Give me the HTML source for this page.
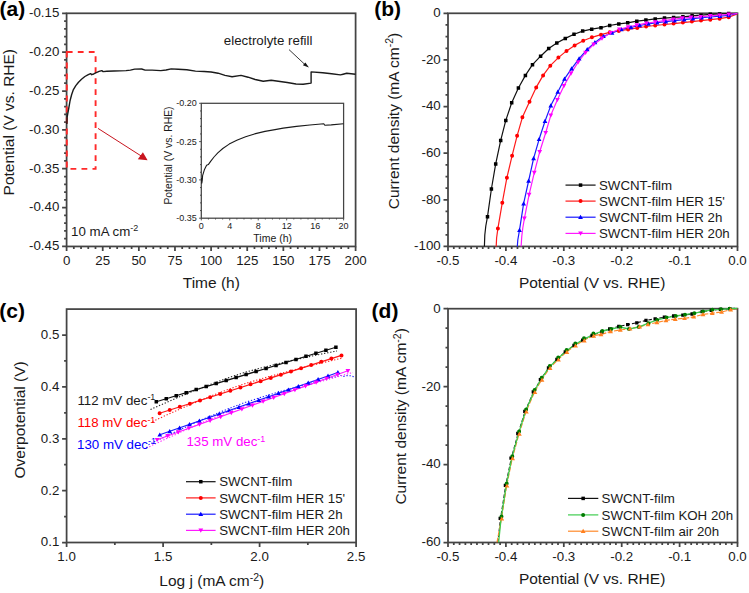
<!DOCTYPE html>
<html><head><meta charset="utf-8"><style>
html,body{margin:0;padding:0;background:#fff;overflow:hidden;}
svg{display:block;}
text{font-family:"Liberation Sans", sans-serif;}
</style></head><body>
<svg width="749" height="593" viewBox="0 0 749 593">
<rect width="749" height="593" fill="#fff"/>
<rect x="66.6" y="13.3" width="289" height="233.15" fill="none" stroke="#444" stroke-width="1.75"/>
<path d="M66.6 13.3h-4.5M66.6 52.16h-4.5M66.6 91.02h-4.5M66.6 129.88h-4.5M66.6 168.73h-4.5M66.6 207.59h-4.5M66.6 246.45h-4.5M66.6 21.07h-2.5M66.6 28.84h-2.5M66.6 36.61h-2.5M66.6 44.39h-2.5M66.6 59.93h-2.5M66.6 67.7h-2.5M66.6 75.47h-2.5M66.6 83.24h-2.5M66.6 98.79h-2.5M66.6 106.56h-2.5M66.6 114.33h-2.5M66.6 122.1h-2.5M66.6 137.65h-2.5M66.6 145.42h-2.5M66.6 153.19h-2.5M66.6 160.96h-2.5M66.6 176.5h-2.5M66.6 184.28h-2.5M66.6 192.05h-2.5M66.6 199.82h-2.5M66.6 215.36h-2.5M66.6 223.14h-2.5M66.6 230.91h-2.5M66.6 238.68h-2.5" stroke="#444" stroke-width="1.75" fill="none"/>
<path d="M66.6 246.45v4.5M102.72 246.45v4.5M138.85 246.45v4.5M174.97 246.45v4.5M211.1 246.45v4.5M247.22 246.45v4.5M283.35 246.45v4.5M319.48 246.45v4.5M355.6 246.45v4.5M73.82 246.45v2.5M81.05 246.45v2.5M88.27 246.45v2.5M95.5 246.45v2.5M109.95 246.45v2.5M117.17 246.45v2.5M124.4 246.45v2.5M131.62 246.45v2.5M146.07 246.45v2.5M153.3 246.45v2.5M160.52 246.45v2.5M167.75 246.45v2.5M182.2 246.45v2.5M189.43 246.45v2.5M196.65 246.45v2.5M203.88 246.45v2.5M218.32 246.45v2.5M225.55 246.45v2.5M232.78 246.45v2.5M240 246.45v2.5M254.45 246.45v2.5M261.67 246.45v2.5M268.9 246.45v2.5M276.12 246.45v2.5M290.57 246.45v2.5M297.8 246.45v2.5M305.02 246.45v2.5M312.25 246.45v2.5M326.7 246.45v2.5M333.92 246.45v2.5M341.15 246.45v2.5M348.38 246.45v2.5" stroke="#444" stroke-width="1.75" fill="none"/>
<text x="59.3" y="17.2" font-size="13.3" text-anchor="end" fill="#1a1a1a" font-weight="normal" >-0.15</text>
<text x="59.3" y="56.06" font-size="13.3" text-anchor="end" fill="#1a1a1a" font-weight="normal" >-0.20</text>
<text x="59.3" y="94.92" font-size="13.3" text-anchor="end" fill="#1a1a1a" font-weight="normal" >-0.25</text>
<text x="59.3" y="133.78" font-size="13.3" text-anchor="end" fill="#1a1a1a" font-weight="normal" >-0.30</text>
<text x="59.3" y="172.63" font-size="13.3" text-anchor="end" fill="#1a1a1a" font-weight="normal" >-0.35</text>
<text x="59.3" y="211.49" font-size="13.3" text-anchor="end" fill="#1a1a1a" font-weight="normal" >-0.40</text>
<text x="59.3" y="250.35" font-size="13.3" text-anchor="end" fill="#1a1a1a" font-weight="normal" >-0.45</text>
<text x="66.6" y="264.65" font-size="13.3" text-anchor="middle" fill="#1a1a1a" font-weight="normal" >0</text>
<text x="102.72" y="264.65" font-size="13.3" text-anchor="middle" fill="#1a1a1a" font-weight="normal" >25</text>
<text x="138.85" y="264.65" font-size="13.3" text-anchor="middle" fill="#1a1a1a" font-weight="normal" >50</text>
<text x="174.97" y="264.65" font-size="13.3" text-anchor="middle" fill="#1a1a1a" font-weight="normal" >75</text>
<text x="211.1" y="264.65" font-size="13.3" text-anchor="middle" fill="#1a1a1a" font-weight="normal" >100</text>
<text x="247.22" y="264.65" font-size="13.3" text-anchor="middle" fill="#1a1a1a" font-weight="normal" >125</text>
<text x="283.35" y="264.65" font-size="13.3" text-anchor="middle" fill="#1a1a1a" font-weight="normal" >150</text>
<text x="319.48" y="264.65" font-size="13.3" text-anchor="middle" fill="#1a1a1a" font-weight="normal" >175</text>
<text x="355.6" y="264.65" font-size="13.3" text-anchor="middle" fill="#1a1a1a" font-weight="normal" >200</text>
<text x="211.3" y="287.8" font-size="15.5" text-anchor="middle" fill="#1a1a1a" font-weight="normal" >Time (h)</text>
<text transform="translate(14 195.4) rotate(-90)" x="0" y="0" font-size="15.5" text-anchor="start" fill="#1a1a1a">Potential (V vs. RHE)</text>
<text x="-0.4" y="16" font-size="21" text-anchor="start" fill="#000" font-weight="bold" >(a)</text>
<path d="M66.8 52 H95.6 V168.9 H66.8 Z" fill="none" stroke="#ff2a2a" stroke-width="1.9" stroke-dasharray="5.8 5.2"/>
<path d="M98 128.4 L141.5 156.2" stroke="#c8141e" stroke-width="1"/>
<path d="M147.6 160.2 L142.9 152.2 L137.8 159.2 Z" fill="#c8141e"/>
<path d="M66.8 124 L67.1 117.5 L67.8 113.5 L68.8 108 L70.1 100.5 L71.6 94.7 L73.4 89.6 L75.8 85.6 L78.5 82.2 L81.5 79.2 L84.9 76.5 L88.3 74.6 L90.6 73.6 L91.7 74.7 L93.7 74 L95.7 72.8 L99.1 71.4 L101.8 70.6 L103.1 71.6 L106.9 71.3 L113.9 71 L126 70.6 L130.4 70.1 L134.7 69.1 L141.7 69 L145.1 70.1 L152.1 70.1 L160.8 70.6 L166 70 L171.2 68.9 L178.1 69.2 L186.8 69.8 L195.5 71.1 L204.2 71.5 L211.1 72 L218.1 73.2 L225 75.4 L232.1 76.7 L241 75.4 L248.1 77.2 L255.2 79.5 L263.2 81.3 L271.2 80.2 L278.3 81.3 L287.2 82.5 L296 84 L303.2 84.3 L311.1 83.1 L311.1 71.9 L322.7 72.8 L331.6 73.8 L340.4 74.9 L343.1 74.2 L346.7 73.3 L355.5 74.2" fill="none" stroke="#1a1a1a" stroke-width="1.4" stroke-linejoin="round" opacity="1"/>
<text x="223.8" y="45" font-size="13.3" text-anchor="start" fill="#1a1a1a" font-weight="normal" >electrolyte refill</text>
<path d="M289 49.6 L305 64.6" stroke="#222" stroke-width="0.9"/>
<path d="M308.9 67.6 L305.4 62.4 L302.9 65.2 Z" fill="#111"/>
<text x="71.1" y="236.3" font-size="13.3" text-anchor="start" fill="#1a1a1a" font-weight="normal" >10 mA cm<tspan dy="-5.6" font-size="9">-2</tspan></text>
<rect x="201.3" y="103.3" width="142.3" height="114.9" fill="none" stroke="#444" stroke-width="1.25"/>
<path d="M201.3 103.3h-2.2M201.3 141.6h-2.2M201.3 179.9h-2.2M201.3 218.2h-2.2M201.3 110.96h-1.3M201.3 118.62h-1.3M201.3 126.28h-1.3M201.3 133.94h-1.3M201.3 149.26h-1.3M201.3 156.92h-1.3M201.3 164.58h-1.3M201.3 172.24h-1.3M201.3 187.56h-1.3M201.3 195.22h-1.3M201.3 202.88h-1.3M201.3 210.54h-1.3" stroke="#444" stroke-width="0.9" fill="none"/>
<path d="M201.3 218.2v2.2M229.76 218.2v2.2M258.22 218.2v2.2M286.68 218.2v2.2M315.14 218.2v2.2M343.6 218.2v2.2M208.42 218.2v1.3M215.53 218.2v1.3M222.65 218.2v1.3M236.88 218.2v1.3M243.99 218.2v1.3M251.11 218.2v1.3M265.34 218.2v1.3M272.45 218.2v1.3M279.57 218.2v1.3M293.8 218.2v1.3M300.91 218.2v1.3M308.02 218.2v1.3M322.25 218.2v1.3M329.37 218.2v1.3M336.49 218.2v1.3" stroke="#444" stroke-width="0.9" fill="none"/>
<text x="196.7" y="106.4" font-size="9" text-anchor="end" fill="#1a1a1a" font-weight="normal" >-0.20</text>
<text x="196.7" y="144.7" font-size="9" text-anchor="end" fill="#1a1a1a" font-weight="normal" >-0.25</text>
<text x="196.7" y="183" font-size="9" text-anchor="end" fill="#1a1a1a" font-weight="normal" >-0.30</text>
<text x="196.7" y="221.3" font-size="9" text-anchor="end" fill="#1a1a1a" font-weight="normal" >-0.35</text>
<text x="201.3" y="229.4" font-size="9" text-anchor="middle" fill="#1a1a1a" font-weight="normal" >0</text>
<text x="229.76" y="229.4" font-size="9" text-anchor="middle" fill="#1a1a1a" font-weight="normal" >4</text>
<text x="258.22" y="229.4" font-size="9" text-anchor="middle" fill="#1a1a1a" font-weight="normal" >8</text>
<text x="286.68" y="229.4" font-size="9" text-anchor="middle" fill="#1a1a1a" font-weight="normal" >12</text>
<text x="315.14" y="229.4" font-size="9" text-anchor="middle" fill="#1a1a1a" font-weight="normal" >16</text>
<text x="343.6" y="229.4" font-size="9" text-anchor="middle" fill="#1a1a1a" font-weight="normal" >20</text>
<text x="272.7" y="241.5" font-size="10.5" text-anchor="middle" fill="#1a1a1a" font-weight="normal" >Time (h)</text>
<text transform="translate(171.6 204.6) rotate(-90)" x="0" y="0" font-size="10.4" text-anchor="start" fill="#1a1a1a">Potential (V vs. RHE)</text>
<path d="M201.5 178 L201.8 183.2 L202.3 180 L202.6 175.7 L204.5 169.4 L206.6 165.3 L208.3 164.6 L210.8 161.1 L214 157 L217.8 152.9 L222.8 148.5 L229.2 144.1 L236.8 140.3 L245.6 136.7 L254.5 133.9 L265 131.4 L275 129.6 L283.2 128.1 L296.5 126.4 L309.9 125 L323.8 123.8 L324.8 125.2 L331.2 124.9 L343.5 123.8" fill="none" stroke="#1a1a1a" stroke-width="1.1" stroke-linejoin="round" opacity="1"/>
<rect x="448" y="13.3" width="289.5" height="233.15" fill="none" stroke="#444" stroke-width="1.75"/>
<path d="M448 13.3h-4.5M448 59.93h-4.5M448 106.56h-4.5M448 153.19h-4.5M448 199.82h-4.5M448 246.45h-4.5M448 24.96h-2.5M448 36.62h-2.5M448 48.27h-2.5M448 71.59h-2.5M448 83.24h-2.5M448 94.9h-2.5M448 118.22h-2.5M448 129.88h-2.5M448 141.53h-2.5M448 164.85h-2.5M448 176.5h-2.5M448 188.16h-2.5M448 211.48h-2.5M448 223.13h-2.5M448 234.79h-2.5" stroke="#444" stroke-width="1.75" fill="none"/>
<path d="M448 246.45v4.5M505.9 246.45v4.5M563.8 246.45v4.5M621.7 246.45v4.5M679.6 246.45v4.5M737.5 246.45v4.5M453.79 246.45v2.5M459.58 246.45v2.5M465.37 246.45v2.5M471.16 246.45v2.5M476.95 246.45v2.5M482.74 246.45v2.5M488.53 246.45v2.5M494.32 246.45v2.5M500.11 246.45v2.5M511.69 246.45v2.5M517.48 246.45v2.5M523.27 246.45v2.5M529.06 246.45v2.5M534.85 246.45v2.5M540.64 246.45v2.5M546.43 246.45v2.5M552.22 246.45v2.5M558.01 246.45v2.5M569.59 246.45v2.5M575.38 246.45v2.5M581.17 246.45v2.5M586.96 246.45v2.5M592.75 246.45v2.5M598.54 246.45v2.5M604.33 246.45v2.5M610.12 246.45v2.5M615.91 246.45v2.5M627.49 246.45v2.5M633.28 246.45v2.5M639.07 246.45v2.5M644.86 246.45v2.5M650.65 246.45v2.5M656.44 246.45v2.5M662.23 246.45v2.5M668.02 246.45v2.5M673.81 246.45v2.5M685.39 246.45v2.5M691.18 246.45v2.5M696.97 246.45v2.5M702.76 246.45v2.5M708.55 246.45v2.5M714.34 246.45v2.5M720.13 246.45v2.5M725.92 246.45v2.5M731.71 246.45v2.5" stroke="#444" stroke-width="1.75" fill="none"/>
<text x="440.7" y="17.2" font-size="13.3" text-anchor="end" fill="#1a1a1a" font-weight="normal" >0</text>
<text x="440.7" y="63.83" font-size="13.3" text-anchor="end" fill="#1a1a1a" font-weight="normal" >-20</text>
<text x="440.7" y="110.46" font-size="13.3" text-anchor="end" fill="#1a1a1a" font-weight="normal" >-40</text>
<text x="440.7" y="157.09" font-size="13.3" text-anchor="end" fill="#1a1a1a" font-weight="normal" >-60</text>
<text x="440.7" y="203.72" font-size="13.3" text-anchor="end" fill="#1a1a1a" font-weight="normal" >-80</text>
<text x="440.7" y="250.35" font-size="13.3" text-anchor="end" fill="#1a1a1a" font-weight="normal" >-100</text>
<text x="448" y="264.65" font-size="13.3" text-anchor="middle" fill="#1a1a1a" font-weight="normal" >-0.5</text>
<text x="505.9" y="264.65" font-size="13.3" text-anchor="middle" fill="#1a1a1a" font-weight="normal" >-0.4</text>
<text x="563.8" y="264.65" font-size="13.3" text-anchor="middle" fill="#1a1a1a" font-weight="normal" >-0.3</text>
<text x="621.7" y="264.65" font-size="13.3" text-anchor="middle" fill="#1a1a1a" font-weight="normal" >-0.2</text>
<text x="679.6" y="264.65" font-size="13.3" text-anchor="middle" fill="#1a1a1a" font-weight="normal" >-0.1</text>
<text x="737.5" y="264.65" font-size="13.3" text-anchor="middle" fill="#1a1a1a" font-weight="normal" >0.0</text>
<text x="592.1" y="287.7" font-size="15.5" text-anchor="middle" fill="#1a1a1a" font-weight="normal" >Potential (V vs. RHE)</text>
<text transform="translate(398.7 209.2) rotate(-90)" x="0" y="0" font-size="15.5" text-anchor="start" fill="#1a1a1a">Current density (mA cm<tspan dy="-5.5" font-size="10.5">-2</tspan><tspan dy="5.5">)</tspan></text>
<text x="374.3" y="16" font-size="21" text-anchor="start" fill="#000" font-weight="bold" >(b)</text>
<path d="M484.4 246.5 L484.8 235 L485.8 226 L487.5 216.7 L491.4 189 L495.7 163.9 L500.7 140.4 L505.8 120.4 L511.7 102.7 L518.4 88 L525.4 75.4 L532.5 64.7 L540.6 56.2 L548.7 48.5 L556.8 43 L565.3 38.4 L574 34.3 L582.7 31.1 L591.7 29.2 L601 27.7 L609.7 25.5 L618.8 23.9 L627.7 22.8 L636.8 21.2 L645.9 20.1 L655.2 18.9 L664.5 18.1 L673.6 17.4 L682.9 16.8 L692.1 15.8 L701 15.2 L710.3 14.3 L719.6 13.9 L728.7 13.5 L737.4 13.3" fill="none" stroke="#111" stroke-width="1.2" stroke-linejoin="round" opacity="1"/>
<path d="M496.2 246.5 L496.6 238 L497.9 228.4 L502.3 202.7 L506.9 177.7 L512.1 155.7 L517.1 135.8 L522.4 117.3 L529.5 101.7 L536.2 87.4 L543.1 75.4 L550.3 65.7 L558.4 57.6 L566.5 50.9 L574.6 45.4 L583.2 40.8 L591.9 37.3 L601 34.7 L609.7 32.3 L618.8 30.9 L628.1 29.4 L637.2 28 L646.1 26.5 L655.2 25.5 L664.5 24.5 L673.6 23.6 L682.9 22.6 L691.9 21.6 L701 20.6 L710.3 19.7 L719.6 18.7 L728.7 17.2 L737.4 13.9" fill="none" stroke="#ff1a1a" stroke-width="1.2" stroke-linejoin="round" opacity="1"/>
<path d="M517.3 246.5 L517.8 240 L519.5 230.2 L523.6 203.6 L528.6 181 L533.6 158.4 L539.1 139.3 L545 121.2 L550.8 105.6 L557.8 92 L564.5 78.9 L571.6 68.7 L579.1 58.6 L587.2 49.5 L594.9 42.4 L603.4 36.3 L612 33 L621.3 29.4 L631 27.4 L639.7 25.5 L648.4 23.9 L657.1 22.6 L665.8 21.6 L674.5 20.6 L684.2 19.7 L692.9 18.7 L701.6 17.7 L710.3 17 L720 16.2 L728.7 15.4 L737.4 13.5" fill="none" stroke="#1a1aff" stroke-width="1.2" stroke-linejoin="round" opacity="1"/>
<path d="M521.1 246.5 L521.8 236 L522.8 228 L524.4 218.4 L529.1 194.6 L534.3 172.6 L539.7 151.8 L545.7 132.7 L550.8 115.3 L557.4 99.7 L563.9 85.9 L571 73.4 L578.1 62.2 L585.6 52.5 L593.7 44.4 L602 38.4 L610.5 32.7 L619.4 29.4 L628.1 27 L636.8 25.1 L646.5 23.2 L655.2 22 L663.9 20.6 L673.2 19.3 L682.3 18.1 L691 17.4 L700.7 16.8 L710.3 15.8 L719.6 15.2 L728.7 14.3 L737.4 13.5" fill="none" stroke="#ff1aff" stroke-width="1.2" stroke-linejoin="round" opacity="1"/>
<path d="M485.75 214.95h3.5v3.5h-3.5zM489.65 187.25h3.5v3.5h-3.5zM493.95 162.15h3.5v3.5h-3.5zM498.95 138.65h3.5v3.5h-3.5zM504.05 118.65h3.5v3.5h-3.5zM509.95 100.95h3.5v3.5h-3.5zM516.65 86.25h3.5v3.5h-3.5zM523.65 73.65h3.5v3.5h-3.5zM530.75 62.95h3.5v3.5h-3.5zM538.85 54.45h3.5v3.5h-3.5zM546.95 46.75h3.5v3.5h-3.5zM555.05 41.25h3.5v3.5h-3.5zM563.55 36.65h3.5v3.5h-3.5zM572.25 32.55h3.5v3.5h-3.5zM580.95 29.35h3.5v3.5h-3.5zM589.95 27.45h3.5v3.5h-3.5zM599.25 25.95h3.5v3.5h-3.5zM607.95 23.75h3.5v3.5h-3.5zM617.05 22.15h3.5v3.5h-3.5zM625.95 21.05h3.5v3.5h-3.5zM635.05 19.45h3.5v3.5h-3.5zM644.15 18.35h3.5v3.5h-3.5zM653.45 17.15h3.5v3.5h-3.5zM662.75 16.35h3.5v3.5h-3.5zM671.85 15.65h3.5v3.5h-3.5zM681.15 15.05h3.5v3.5h-3.5zM690.35 14.05h3.5v3.5h-3.5zM699.25 13.45h3.5v3.5h-3.5zM708.55 12.55h3.5v3.5h-3.5zM717.85 12.15h3.5v3.5h-3.5zM726.95 11.75h3.5v3.5h-3.5z" fill="#000" stroke="none"/>
<path d="M495.9 228.4a2 2 0 1 0 4 0a2 2 0 1 0 -4 0zM500.3 202.7a2 2 0 1 0 4 0a2 2 0 1 0 -4 0zM504.9 177.7a2 2 0 1 0 4 0a2 2 0 1 0 -4 0zM510.1 155.7a2 2 0 1 0 4 0a2 2 0 1 0 -4 0zM515.1 135.8a2 2 0 1 0 4 0a2 2 0 1 0 -4 0zM520.4 117.3a2 2 0 1 0 4 0a2 2 0 1 0 -4 0zM527.5 101.7a2 2 0 1 0 4 0a2 2 0 1 0 -4 0zM534.2 87.4a2 2 0 1 0 4 0a2 2 0 1 0 -4 0zM541.1 75.4a2 2 0 1 0 4 0a2 2 0 1 0 -4 0zM548.3 65.7a2 2 0 1 0 4 0a2 2 0 1 0 -4 0zM556.4 57.6a2 2 0 1 0 4 0a2 2 0 1 0 -4 0zM564.5 50.9a2 2 0 1 0 4 0a2 2 0 1 0 -4 0zM572.6 45.4a2 2 0 1 0 4 0a2 2 0 1 0 -4 0zM581.2 40.8a2 2 0 1 0 4 0a2 2 0 1 0 -4 0zM589.9 37.3a2 2 0 1 0 4 0a2 2 0 1 0 -4 0zM599 34.7a2 2 0 1 0 4 0a2 2 0 1 0 -4 0zM607.7 32.3a2 2 0 1 0 4 0a2 2 0 1 0 -4 0zM616.8 30.9a2 2 0 1 0 4 0a2 2 0 1 0 -4 0zM626.1 29.4a2 2 0 1 0 4 0a2 2 0 1 0 -4 0zM635.2 28a2 2 0 1 0 4 0a2 2 0 1 0 -4 0zM644.1 26.5a2 2 0 1 0 4 0a2 2 0 1 0 -4 0zM653.2 25.5a2 2 0 1 0 4 0a2 2 0 1 0 -4 0zM662.5 24.5a2 2 0 1 0 4 0a2 2 0 1 0 -4 0zM671.6 23.6a2 2 0 1 0 4 0a2 2 0 1 0 -4 0zM680.9 22.6a2 2 0 1 0 4 0a2 2 0 1 0 -4 0zM689.9 21.6a2 2 0 1 0 4 0a2 2 0 1 0 -4 0zM699 20.6a2 2 0 1 0 4 0a2 2 0 1 0 -4 0zM708.3 19.7a2 2 0 1 0 4 0a2 2 0 1 0 -4 0zM717.6 18.7a2 2 0 1 0 4 0a2 2 0 1 0 -4 0zM726.7 17.2a2 2 0 1 0 4 0a2 2 0 1 0 -4 0z" fill="#ff0000" stroke="none"/>
<path d="M519.5 227.8L521.9 232L517.1 232zM523.6 201.2L526 205.4L521.2 205.4zM528.6 178.6L531 182.8L526.2 182.8zM533.6 156L536 160.2L531.2 160.2zM539.1 136.9L541.5 141.1L536.7 141.1zM545 118.8L547.4 123L542.6 123zM550.8 103.2L553.2 107.4L548.4 107.4zM557.8 89.6L560.2 93.8L555.4 93.8zM564.5 76.5L566.9 80.7L562.1 80.7zM571.6 66.3L574 70.5L569.2 70.5zM579.1 56.2L581.5 60.4L576.7 60.4zM587.2 47.1L589.6 51.3L584.8 51.3zM594.9 40L597.3 44.2L592.5 44.2zM603.4 33.9L605.8 38.1L601 38.1zM612 30.6L614.4 34.8L609.6 34.8zM621.3 27L623.7 31.2L618.9 31.2zM631 25L633.4 29.2L628.6 29.2zM639.7 23.1L642.1 27.3L637.3 27.3zM648.4 21.5L650.8 25.7L646 25.7zM657.1 20.2L659.5 24.4L654.7 24.4zM665.8 19.2L668.2 23.4L663.4 23.4zM674.5 18.2L676.9 22.4L672.1 22.4zM684.2 17.3L686.6 21.5L681.8 21.5zM692.9 16.3L695.3 20.5L690.5 20.5zM701.6 15.3L704 19.5L699.2 19.5zM710.3 14.6L712.7 18.8L707.9 18.8zM720 13.8L722.4 18L717.6 18zM728.7 13L731.1 17.2L726.3 17.2z" fill="#0000ff" stroke="none"/>
<path d="M524.4 220.8L526.8 216.6L522 216.6zM529.1 197L531.5 192.8L526.7 192.8zM534.3 175L536.7 170.8L531.9 170.8zM539.7 154.2L542.1 150L537.3 150zM545.7 135.1L548.1 130.9L543.3 130.9zM550.8 117.7L553.2 113.5L548.4 113.5zM557.4 102.1L559.8 97.9L555 97.9zM563.9 88.3L566.3 84.1L561.5 84.1zM571 75.8L573.4 71.6L568.6 71.6zM578.1 64.6L580.5 60.4L575.7 60.4zM585.6 54.9L588 50.7L583.2 50.7zM593.7 46.8L596.1 42.6L591.3 42.6zM602 40.8L604.4 36.6L599.6 36.6zM610.5 35.1L612.9 30.9L608.1 30.9zM619.4 31.8L621.8 27.6L617 27.6zM628.1 29.4L630.5 25.2L625.7 25.2zM636.8 27.5L639.2 23.3L634.4 23.3zM646.5 25.6L648.9 21.4L644.1 21.4zM655.2 24.4L657.6 20.2L652.8 20.2zM663.9 23L666.3 18.8L661.5 18.8zM673.2 21.7L675.6 17.5L670.8 17.5zM682.3 20.5L684.7 16.3L679.9 16.3zM691 19.8L693.4 15.6L688.6 15.6zM700.7 19.2L703.1 15L698.3 15zM710.3 18.2L712.7 14L707.9 14zM719.6 17.6L722 13.4L717.2 13.4zM728.7 16.7L731.1 12.5L726.3 12.5z" fill="#ff00ff" stroke="none"/>
<path d="M565.5 185.1 L595.6 185.1" fill="none" stroke="#111" stroke-width="1.2" stroke-linejoin="round" opacity="1"/>
<path d="M578.8 183.35h3.5v3.5h-3.5z" fill="#000" stroke="none"/>
<text x="599" y="189.8" font-size="13.3" text-anchor="start" fill="#1a1a1a" font-weight="normal" >SWCNT-film</text>
<path d="M565.5 201.1 L595.6 201.1" fill="none" stroke="#ff1a1a" stroke-width="1.2" stroke-linejoin="round" opacity="1"/>
<path d="M578.55 201.1a2 2 0 1 0 4 0a2 2 0 1 0 -4 0z" fill="#ff0000" stroke="none"/>
<text x="599" y="205.8" font-size="13.3" text-anchor="start" fill="#1a1a1a" font-weight="normal" >SWCNT-film HER 15'</text>
<path d="M565.5 217.2 L595.6 217.2" fill="none" stroke="#1a1aff" stroke-width="1.2" stroke-linejoin="round" opacity="1"/>
<path d="M580.55 214.8L582.95 219L578.15 219z" fill="#0000ff" stroke="none"/>
<text x="599" y="221.9" font-size="13.3" text-anchor="start" fill="#1a1a1a" font-weight="normal" >SWCNT-film HER 2h</text>
<path d="M565.5 233.4 L595.6 233.4" fill="none" stroke="#ff1aff" stroke-width="1.2" stroke-linejoin="round" opacity="1"/>
<path d="M580.55 235.8L582.95 231.6L578.15 231.6z" fill="#ff00ff" stroke="none"/>
<text x="599" y="238.1" font-size="13.3" text-anchor="start" fill="#1a1a1a" font-weight="normal" >SWCNT-film HER 20h</text>
<rect x="66.6" y="309.1" width="289.5" height="233.4" fill="none" stroke="#444" stroke-width="1.75"/>
<path d="M66.6 542.5h-4.5M66.6 490.63h-4.5M66.6 438.77h-4.5M66.6 386.9h-4.5M66.6 335.03h-4.5M66.6 516.57h-2.5M66.6 464.7h-2.5M66.6 412.83h-2.5M66.6 360.97h-2.5" stroke="#444" stroke-width="1.75" fill="none"/>
<path d="M66.6 542.5v4.5M163.1 542.5v4.5M259.6 542.5v4.5M356.1 542.5v4.5M114.85 542.5v2.5M211.35 542.5v2.5M307.85 542.5v2.5" stroke="#444" stroke-width="1.75" fill="none"/>
<text x="59.3" y="546.4" font-size="13.3" text-anchor="end" fill="#1a1a1a" font-weight="normal" >0.1</text>
<text x="59.3" y="494.53" font-size="13.3" text-anchor="end" fill="#1a1a1a" font-weight="normal" >0.2</text>
<text x="59.3" y="442.67" font-size="13.3" text-anchor="end" fill="#1a1a1a" font-weight="normal" >0.3</text>
<text x="59.3" y="390.8" font-size="13.3" text-anchor="end" fill="#1a1a1a" font-weight="normal" >0.4</text>
<text x="59.3" y="338.93" font-size="13.3" text-anchor="end" fill="#1a1a1a" font-weight="normal" >0.5</text>
<text x="66.6" y="560.7" font-size="13.3" text-anchor="middle" fill="#1a1a1a" font-weight="normal" >1.0</text>
<text x="163.1" y="560.7" font-size="13.3" text-anchor="middle" fill="#1a1a1a" font-weight="normal" >1.5</text>
<text x="259.6" y="560.7" font-size="13.3" text-anchor="middle" fill="#1a1a1a" font-weight="normal" >2.0</text>
<text x="356.1" y="560.7" font-size="13.3" text-anchor="middle" fill="#1a1a1a" font-weight="normal" >2.5</text>
<text x="211.8" y="586.3" font-size="15.5" text-anchor="middle" fill="#1a1a1a" font-weight="normal" >Log j (mA cm<tspan dy="-5.5" font-size="10.5">-2</tspan><tspan dy="5.5">)</tspan></text>
<text transform="translate(25.4 478.5) rotate(-90)" x="0" y="0" font-size="15.5" text-anchor="start" fill="#1a1a1a">Overpotential (V)</text>
<text x="-0.8" y="317.8" font-size="21" text-anchor="start" fill="#000" font-weight="bold" >(c)</text>
<path d="M150.5 409.46 L153.61 408.06 L156.72 406.68 L159.82 405.3 L162.93 403.94 L166.04 402.58 L169.15 401.24 L172.26 399.9 L175.37 398.58 L178.47 397.26 L181.58 395.96 L184.69 394.66 L187.8 393.38 L190.91 392.11 L194.02 390.85 L197.12 389.6 L200.23 388.37 L203.34 387.14 L206.45 385.93 L209.56 384.74 L212.67 383.55 L215.78 382.39 L218.88 381.23 L221.99 380.1 L225.1 378.97 L228.21 377.87 L231.32 376.79 L234.43 375.73 L237.53 374.69 L240.64 373.68 L243.75 372.71 L246.86 371.81 L249.97 370.93 L253.07 370.07 L256.18 369.23 L259.29 368.4 L262.4 367.58 L265.51 366.78 L268.62 365.99 L271.73 365.21 L274.83 364.45 L277.94 363.69 L281.05 362.94 L284.16 362.21 L287.27 361.48 L290.38 360.76 L293.48 360.05 L296.59 359.35 L299.7 358.66 L302.81 357.98 L305.92 357.3 L309.02 356.63 L312.13 355.97 L315.24 355.32 L318.35 354.68 L321.46 354.04 L324.57 353.41 L327.68 352.79 L330.78 352.18 L333.89 351.57 L337 350.97" fill="none" stroke="#222" stroke-width="1.1" stroke-linejoin="round" stroke-dasharray="1.3 1.8" opacity="1"/>
<path d="M152.5 421.56 L155.68 420.08 L158.85 418.6 L162.03 417.14 L165.2 415.69 L168.38 414.25 L171.55 412.82 L174.72 411.4 L177.9 409.99 L181.07 408.6 L184.25 407.21 L187.43 405.84 L190.6 404.48 L193.78 403.13 L196.95 401.79 L200.12 400.47 L203.3 399.16 L206.47 397.87 L209.65 396.59 L212.82 395.32 L216 394.07 L219.18 392.84 L222.35 391.63 L225.53 390.43 L228.7 389.25 L231.88 388.09 L235.05 386.96 L238.22 385.85 L241.4 384.78 L244.57 383.76 L247.75 382.78 L250.93 381.83 L254.1 380.88 L257.27 379.95 L260.45 379.04 L263.62 378.13 L266.8 377.23 L269.98 376.34 L273.15 375.46 L276.32 374.59 L279.5 373.73 L282.68 372.88 L285.85 372.03 L289.02 371.19 L292.2 370.36 L295.38 369.54 L298.55 368.72 L301.73 367.91 L304.9 367.1 L308.07 366.31 L311.25 365.51 L314.43 364.73 L317.6 363.95 L320.77 363.18 L323.95 362.41 L327.12 361.65 L330.3 360.89 L333.48 360.14 L336.65 359.4 L339.82 358.66 L343 357.92" fill="none" stroke="#ff2222" stroke-width="1.1" stroke-linejoin="round" stroke-dasharray="1.3 1.8" opacity="1"/>
<path d="M148.5 444.75 L151.71 443.17 L154.92 441.6 L158.12 440.04 L161.33 438.49 L164.54 436.95 L167.75 435.42 L170.96 433.9 L174.17 432.39 L177.38 430.9 L180.58 429.41 L183.79 427.93 L187 426.47 L190.21 425.01 L193.42 423.57 L196.62 422.14 L199.83 420.72 L203.04 419.32 L206.25 417.93 L209.46 416.55 L212.67 415.19 L215.88 413.84 L219.08 412.51 L222.29 411.19 L225.5 409.89 L228.71 408.61 L231.92 407.35 L235.12 406.11 L238.33 404.9 L241.54 403.72 L244.75 402.59 L247.96 401.52 L251.17 400.46 L254.38 399.42 L257.58 398.4 L260.79 397.4 L264 396.4 L267.21 395.42 L270.42 394.45 L273.62 393.49 L276.83 392.55 L280.04 391.61 L283.25 390.68 L286.46 389.76 L289.67 388.86 L292.88 387.96 L296.08 387.06 L299.29 386.18 L302.5 385.31 L305.71 384.44 L308.92 383.58 L312.12 382.73 L315.33 381.89 L318.54 381.06 L321.75 380.23 L324.96 379.41 L328.17 378.6 L331.38 377.79 L334.58 376.99 L337.79 376.2 L341 375.42 L343.7 376.4 L347.1 375.6 L350.5 375.8 L354 376.8" fill="none" stroke="#2222ff" stroke-width="1.1" stroke-linejoin="round" stroke-dasharray="1.3 1.8" opacity="1"/>
<path d="M146.5 448.03 L149.94 446.39 L153.38 444.76 L156.82 443.14 L160.27 441.53 L163.71 439.93 L167.15 438.33 L170.59 436.75 L174.03 435.17 L177.47 433.61 L180.92 432.06 L184.36 430.51 L187.8 428.98 L191.24 427.45 L194.68 425.94 L198.12 424.44 L201.57 422.95 L205.01 421.48 L208.45 420.01 L211.89 418.56 L215.33 417.12 L218.78 415.7 L222.22 414.29 L225.66 412.89 L229.1 411.52 L232.54 410.16 L235.98 408.82 L239.43 407.51 L242.87 406.23 L246.31 405.01 L249.75 403.81 L253.19 402.63 L256.63 401.47 L260.07 400.32 L263.52 399.18 L266.96 398.05 L270.4 396.94 L273.84 395.83 L277.28 394.73 L280.73 393.64 L284.17 392.56 L287.61 391.49 L291.05 390.42 L294.49 389.37 L297.93 388.32 L301.38 387.28 L304.82 386.24 L308.26 385.22 L311.7 384.2 L315.14 383.18 L318.58 382.18 L322.02 381.18 L325.47 380.19 L328.91 379.2 L332.35 378.22 L335.79 377.24 L339.23 376.27 L342.68 375.31 L346.12 374.35 L349.56 373.4 L353 372.46" fill="none" stroke="#ff22ff" stroke-width="1.1" stroke-linejoin="round" stroke-dasharray="1.3 1.8" opacity="1"/>
<path d="M156.3 401.7 L335.9 347.3" fill="none" stroke="#111" stroke-width="1.2" stroke-linejoin="round" opacity="1"/>
<path d="M159.6 413.3 L341.5 355.4" fill="none" stroke="#ff1a1a" stroke-width="1.2" stroke-linejoin="round" opacity="1"/>
<path d="M159.8 434.8 L337.9 372.5" fill="none" stroke="#1a1aff" stroke-width="1.2" stroke-linejoin="round" opacity="1"/>
<path d="M157.1 439.7 L347.9 370.8" fill="none" stroke="#ff1aff" stroke-width="1.2" stroke-linejoin="round" opacity="1"/>
<path d="M154.55 399.95h3.5v3.5h-3.5zM164.53 396.93h3.5v3.5h-3.5zM174.51 393.91h3.5v3.5h-3.5zM184.48 390.88h3.5v3.5h-3.5zM194.46 387.86h3.5v3.5h-3.5zM204.44 384.84h3.5v3.5h-3.5zM214.42 381.82h3.5v3.5h-3.5zM224.39 378.79h3.5v3.5h-3.5zM234.37 375.77h3.5v3.5h-3.5zM244.35 372.75h3.5v3.5h-3.5zM254.33 369.73h3.5v3.5h-3.5zM264.31 366.71h3.5v3.5h-3.5zM274.28 363.68h3.5v3.5h-3.5zM284.26 360.66h3.5v3.5h-3.5zM294.24 357.64h3.5v3.5h-3.5zM304.22 354.62h3.5v3.5h-3.5zM314.19 351.59h3.5v3.5h-3.5zM324.17 348.57h3.5v3.5h-3.5zM334.15 345.55h3.5v3.5h-3.5z" fill="#000" stroke="none"/>
<path d="M157.6 413.3a2 2 0 1 0 4 0a2 2 0 1 0 -4 0zM167.71 410.08a2 2 0 1 0 4 0a2 2 0 1 0 -4 0zM177.81 406.87a2 2 0 1 0 4 0a2 2 0 1 0 -4 0zM187.92 403.65a2 2 0 1 0 4 0a2 2 0 1 0 -4 0zM198.02 400.43a2 2 0 1 0 4 0a2 2 0 1 0 -4 0zM208.13 397.22a2 2 0 1 0 4 0a2 2 0 1 0 -4 0zM218.23 394a2 2 0 1 0 4 0a2 2 0 1 0 -4 0zM228.34 390.78a2 2 0 1 0 4 0a2 2 0 1 0 -4 0zM238.44 387.57a2 2 0 1 0 4 0a2 2 0 1 0 -4 0zM248.55 384.35a2 2 0 1 0 4 0a2 2 0 1 0 -4 0zM258.66 381.13a2 2 0 1 0 4 0a2 2 0 1 0 -4 0zM268.76 377.92a2 2 0 1 0 4 0a2 2 0 1 0 -4 0zM278.87 374.7a2 2 0 1 0 4 0a2 2 0 1 0 -4 0zM288.97 371.48a2 2 0 1 0 4 0a2 2 0 1 0 -4 0zM299.08 368.27a2 2 0 1 0 4 0a2 2 0 1 0 -4 0zM309.18 365.05a2 2 0 1 0 4 0a2 2 0 1 0 -4 0zM319.29 361.83a2 2 0 1 0 4 0a2 2 0 1 0 -4 0zM329.39 358.62a2 2 0 1 0 4 0a2 2 0 1 0 -4 0zM339.5 355.4a2 2 0 1 0 4 0a2 2 0 1 0 -4 0z" fill="#ff0000" stroke="none"/>
<path d="M159.8 432.4L162.2 436.6L157.4 436.6zM169.69 428.94L172.09 433.14L167.29 433.14zM179.59 425.48L181.99 429.68L177.19 429.68zM189.48 422.02L191.88 426.22L187.08 426.22zM199.38 418.56L201.78 422.76L196.98 422.76zM209.27 415.09L211.67 419.29L206.87 419.29zM219.17 411.63L221.57 415.83L216.77 415.83zM229.06 408.17L231.46 412.37L226.66 412.37zM238.96 404.71L241.36 408.91L236.56 408.91zM248.85 401.25L251.25 405.45L246.45 405.45zM258.74 397.79L261.14 401.99L256.34 401.99zM268.64 394.33L271.04 398.53L266.24 398.53zM278.53 390.87L280.93 395.07L276.13 395.07zM288.43 387.41L290.83 391.61L286.03 391.61zM298.32 383.94L300.72 388.14L295.92 388.14zM308.22 380.48L310.62 384.68L305.82 384.68zM318.11 377.02L320.51 381.22L315.71 381.22zM328.01 373.56L330.41 377.76L325.61 377.76zM337.9 370.1L340.3 374.3L335.5 374.3z" fill="#0000ff" stroke="none"/>
<path d="M157.1 442.1L159.5 437.9L154.7 437.9zM167.7 438.27L170.1 434.07L165.3 434.07zM178.3 434.44L180.7 430.24L175.9 430.24zM188.9 430.62L191.3 426.42L186.5 426.42zM199.5 426.79L201.9 422.59L197.1 422.59zM210.1 422.96L212.5 418.76L207.7 418.76zM220.7 419.13L223.1 414.93L218.3 414.93zM231.3 415.31L233.7 411.11L228.9 411.11zM241.9 411.48L244.3 407.28L239.5 407.28zM252.5 407.65L254.9 403.45L250.1 403.45zM263.1 403.82L265.5 399.62L260.7 399.62zM273.7 399.99L276.1 395.79L271.3 395.79zM284.3 396.17L286.7 391.97L281.9 391.97zM294.9 392.34L297.3 388.14L292.5 388.14zM305.5 388.51L307.9 384.31L303.1 384.31zM316.1 384.68L318.5 380.48L313.7 380.48zM326.7 380.86L329.1 376.66L324.3 376.66zM337.3 377.03L339.7 372.83L334.9 372.83zM347.9 373.2L350.3 369L345.5 369z" fill="#ff00ff" stroke="none"/>
<text x="77.4" y="404.9" font-size="13.3" text-anchor="start" fill="#1a1a1a" font-weight="normal" >112 mV dec<tspan dy="-4.6" font-size="9">-1</tspan></text>
<text x="77.4" y="427.2" font-size="13.3" text-anchor="start" fill="#ff0000" font-weight="normal" >118 mV dec<tspan dy="-4.6" font-size="9">-1</tspan></text>
<text x="77" y="449" font-size="13.3" text-anchor="start" fill="#0000ff" font-weight="normal" >130 mV dec<tspan dy="-4.6" font-size="9">-1</tspan></text>
<text x="186.4" y="446.2" font-size="13.3" text-anchor="start" fill="#ff00ff" font-weight="normal" >135 mV dec<tspan dy="-4.6" font-size="9">-1</tspan></text>
<path d="M186 481.7 L215.6 481.7" fill="none" stroke="#111" stroke-width="1.2" stroke-linejoin="round" opacity="1"/>
<path d="M199.05 479.95h3.5v3.5h-3.5z" fill="#000" stroke="none"/>
<text x="219.2" y="486.4" font-size="13.3" text-anchor="start" fill="#1a1a1a" font-weight="normal" >SWCNT-film</text>
<path d="M186 497.9 L215.6 497.9" fill="none" stroke="#ff1a1a" stroke-width="1.2" stroke-linejoin="round" opacity="1"/>
<path d="M198.8 497.9a2 2 0 1 0 4 0a2 2 0 1 0 -4 0z" fill="#ff0000" stroke="none"/>
<text x="219.2" y="502.6" font-size="13.3" text-anchor="start" fill="#1a1a1a" font-weight="normal" >SWCNT-film HER 15'</text>
<path d="M186 514.2 L215.6 514.2" fill="none" stroke="#1a1aff" stroke-width="1.2" stroke-linejoin="round" opacity="1"/>
<path d="M200.8 511.8L203.2 516L198.4 516z" fill="#0000ff" stroke="none"/>
<text x="219.2" y="518.9" font-size="13.3" text-anchor="start" fill="#1a1a1a" font-weight="normal" >SWCNT-film HER 2h</text>
<path d="M186 530.4 L215.6 530.4" fill="none" stroke="#ff1aff" stroke-width="1.2" stroke-linejoin="round" opacity="1"/>
<path d="M200.8 532.8L203.2 528.6L198.4 528.6z" fill="#ff00ff" stroke="none"/>
<text x="219.2" y="535.1" font-size="13.3" text-anchor="start" fill="#1a1a1a" font-weight="normal" >SWCNT-film HER 20h</text>
<rect x="448" y="308.7" width="289.5" height="233.8" fill="none" stroke="#444" stroke-width="1.75"/>
<path d="M448 308.7h-4.5M448 386.63h-4.5M448 464.57h-4.5M448 542.5h-4.5M448 328.18h-2.5M448 347.67h-2.5M448 367.15h-2.5M448 406.12h-2.5M448 425.6h-2.5M448 445.08h-2.5M448 484.05h-2.5M448 503.53h-2.5M448 523.02h-2.5" stroke="#444" stroke-width="1.75" fill="none"/>
<path d="M448 542.5v4.5M505.9 542.5v4.5M563.8 542.5v4.5M621.7 542.5v4.5M679.6 542.5v4.5M737.5 542.5v4.5M453.79 542.5v2.5M459.58 542.5v2.5M465.37 542.5v2.5M471.16 542.5v2.5M476.95 542.5v2.5M482.74 542.5v2.5M488.53 542.5v2.5M494.32 542.5v2.5M500.11 542.5v2.5M511.69 542.5v2.5M517.48 542.5v2.5M523.27 542.5v2.5M529.06 542.5v2.5M534.85 542.5v2.5M540.64 542.5v2.5M546.43 542.5v2.5M552.22 542.5v2.5M558.01 542.5v2.5M569.59 542.5v2.5M575.38 542.5v2.5M581.17 542.5v2.5M586.96 542.5v2.5M592.75 542.5v2.5M598.54 542.5v2.5M604.33 542.5v2.5M610.12 542.5v2.5M615.91 542.5v2.5M627.49 542.5v2.5M633.28 542.5v2.5M639.07 542.5v2.5M644.86 542.5v2.5M650.65 542.5v2.5M656.44 542.5v2.5M662.23 542.5v2.5M668.02 542.5v2.5M673.81 542.5v2.5M685.39 542.5v2.5M691.18 542.5v2.5M696.97 542.5v2.5M702.76 542.5v2.5M708.55 542.5v2.5M714.34 542.5v2.5M720.13 542.5v2.5M725.92 542.5v2.5M731.71 542.5v2.5" stroke="#444" stroke-width="1.75" fill="none"/>
<text x="440.7" y="312.6" font-size="13.3" text-anchor="end" fill="#1a1a1a" font-weight="normal" >0</text>
<text x="440.7" y="390.53" font-size="13.3" text-anchor="end" fill="#1a1a1a" font-weight="normal" >-20</text>
<text x="440.7" y="468.47" font-size="13.3" text-anchor="end" fill="#1a1a1a" font-weight="normal" >-40</text>
<text x="440.7" y="546.4" font-size="13.3" text-anchor="end" fill="#1a1a1a" font-weight="normal" >-60</text>
<text x="448" y="560.7" font-size="13.3" text-anchor="middle" fill="#1a1a1a" font-weight="normal" >-0.5</text>
<text x="505.9" y="560.7" font-size="13.3" text-anchor="middle" fill="#1a1a1a" font-weight="normal" >-0.4</text>
<text x="563.8" y="560.7" font-size="13.3" text-anchor="middle" fill="#1a1a1a" font-weight="normal" >-0.3</text>
<text x="621.7" y="560.7" font-size="13.3" text-anchor="middle" fill="#1a1a1a" font-weight="normal" >-0.2</text>
<text x="679.6" y="560.7" font-size="13.3" text-anchor="middle" fill="#1a1a1a" font-weight="normal" >-0.1</text>
<text x="737.5" y="560.7" font-size="13.3" text-anchor="middle" fill="#1a1a1a" font-weight="normal" >0.0</text>
<text x="592.1" y="583.5" font-size="15.5" text-anchor="middle" fill="#1a1a1a" font-weight="normal" >Potential (V vs. RHE)</text>
<text transform="translate(406.4 504.6) rotate(-90)" x="0" y="0" font-size="15.5" text-anchor="start" fill="#1a1a1a">Current density (mA cm<tspan dy="-5.5" font-size="10.5">-2</tspan><tspan dy="5.5">)</tspan></text>
<text x="371.6" y="317.8" font-size="21" text-anchor="start" fill="#000" font-weight="bold" >(d)</text>
<path d="M497.8 542.4 L500.6 518.1 L505.8 485.1 L511.4 457.8 L518.2 433.2 L525.2 411.1 L533.7 391.6 L540.8 379.3 L548.9 367.5 L557.3 359.1 L565.7 351.5 L574.4 345.1 L583.1 339.9 L592.5 335.2 L601.9 331.8 L609.7 329 L618.8 326.5 L627.7 324.6 L636.8 322.8 L646 320.4 L655.2 318.8 L664.4 317.2 L673.7 316 L682.9 315.2 L692.1 314 L702.2 311.6 L711.3 310.3 L720.4 309.3 L729.7 308.7 L737.2 308.3" fill="none" stroke="#111" stroke-width="1.1" stroke-linejoin="round" stroke-dasharray="3.6 2" opacity="1"/>
<path d="M497 542.4 L501.5 518.4 L506.7 485.4 L512.3 458.1 L519.1 433.5 L526.1 411.4 L534.6 391.9 L541.7 379.6 L549.8 367.8 L558.2 359.4 L566.6 351.8 L575.3 345.4 L584 340.2 L593.4 335.5 L601 334.5 L610.6 331.5 L620.3 330 L630 328.6 L639.7 326.7 L648 324.4 L657 322.4 L666 320.4 L675.3 319.1 L684.5 318.3 L693.8 316.8 L703 314.5 L712.3 313.2 L721.6 312 L730.7 309.7 L737.4 308.7" fill="none" stroke="#ff8a2a" stroke-width="1.2" stroke-linejoin="round" stroke-dasharray="5 1.5" opacity="1"/>
<path d="M498.6 542.4 L501.2 517.5 L506.4 484.5 L512 457.2 L518.8 432.6 L525.8 410.5 L534.3 391 L541.4 378.7 L549.5 366.9 L557.9 358.5 L566.3 350.9 L575 344.5 L583.7 339.3 L593.1 334.6 L602.3 331 L611.2 329 L620.3 327.1 L629 329 L638.7 327.1 L648.4 323.2 L657.2 319.9 L666.4 317.6 L675.7 316 L685 314.7 L694.3 313.2 L703 311.6 L712.3 309.7 L721 309.3 L729.7 308.7 L737.2 308.3" fill="none" stroke="#3fcc4f" stroke-width="1.3" stroke-linejoin="round" opacity="1"/>
<path d="M498.54 516.74h3.32v3.32h-3.32zM503.74 483.74h3.32v3.32h-3.32zM509.34 456.44h3.32v3.32h-3.32zM516.14 431.84h3.32v3.32h-3.32zM523.14 409.74h3.32v3.32h-3.32zM531.64 390.24h3.32v3.32h-3.32zM538.74 377.94h3.32v3.32h-3.32zM546.84 366.14h3.32v3.32h-3.32zM555.24 357.74h3.32v3.32h-3.32zM563.64 350.14h3.32v3.32h-3.32zM572.34 343.74h3.32v3.32h-3.32zM581.04 338.54h3.32v3.32h-3.32zM590.44 333.84h3.32v3.32h-3.32zM600.24 330.14h3.32v3.32h-3.32zM608.04 327.34h3.32v3.32h-3.32zM617.14 324.84h3.32v3.32h-3.32zM626.04 322.94h3.32v3.32h-3.32zM635.14 321.14h3.32v3.32h-3.32zM644.34 318.74h3.32v3.32h-3.32zM653.54 317.14h3.32v3.32h-3.32zM662.74 315.54h3.32v3.32h-3.32zM672.04 314.34h3.32v3.32h-3.32zM681.24 313.54h3.32v3.32h-3.32zM690.44 312.34h3.32v3.32h-3.32zM700.54 309.94h3.32v3.32h-3.32zM709.64 308.64h3.32v3.32h-3.32zM718.74 307.64h3.32v3.32h-3.32zM728.04 307.04h3.32v3.32h-3.32z" fill="#000" stroke="none"/>
<path d="M499.5 516.5a2 2 0 1 0 4 0a2 2 0 1 0 -4 0zM504.7 483.5a2 2 0 1 0 4 0a2 2 0 1 0 -4 0zM510.3 456.2a2 2 0 1 0 4 0a2 2 0 1 0 -4 0zM517.1 431.6a2 2 0 1 0 4 0a2 2 0 1 0 -4 0zM524.1 409.5a2 2 0 1 0 4 0a2 2 0 1 0 -4 0zM532.6 390a2 2 0 1 0 4 0a2 2 0 1 0 -4 0zM539.7 377.7a2 2 0 1 0 4 0a2 2 0 1 0 -4 0zM547.8 365.9a2 2 0 1 0 4 0a2 2 0 1 0 -4 0zM556.2 357.5a2 2 0 1 0 4 0a2 2 0 1 0 -4 0zM564.6 349.9a2 2 0 1 0 4 0a2 2 0 1 0 -4 0zM573.3 343.5a2 2 0 1 0 4 0a2 2 0 1 0 -4 0zM582 338.3a2 2 0 1 0 4 0a2 2 0 1 0 -4 0zM591.4 333.6a2 2 0 1 0 4 0a2 2 0 1 0 -4 0zM600.3 331a2 2 0 1 0 4 0a2 2 0 1 0 -4 0zM609.2 329a2 2 0 1 0 4 0a2 2 0 1 0 -4 0zM618.3 327.1a2 2 0 1 0 4 0a2 2 0 1 0 -4 0zM627 329a2 2 0 1 0 4 0a2 2 0 1 0 -4 0zM636.7 327.1a2 2 0 1 0 4 0a2 2 0 1 0 -4 0zM646.4 323.2a2 2 0 1 0 4 0a2 2 0 1 0 -4 0zM655.2 319.9a2 2 0 1 0 4 0a2 2 0 1 0 -4 0zM664.4 317.6a2 2 0 1 0 4 0a2 2 0 1 0 -4 0zM673.7 316a2 2 0 1 0 4 0a2 2 0 1 0 -4 0zM683 314.7a2 2 0 1 0 4 0a2 2 0 1 0 -4 0zM692.3 313.2a2 2 0 1 0 4 0a2 2 0 1 0 -4 0zM701 311.6a2 2 0 1 0 4 0a2 2 0 1 0 -4 0zM710.3 309.7a2 2 0 1 0 4 0a2 2 0 1 0 -4 0zM719 309.3a2 2 0 1 0 4 0a2 2 0 1 0 -4 0zM727.7 308.7a2 2 0 1 0 4 0a2 2 0 1 0 -4 0z" fill="#007a00" stroke="none"/>
<path d="M501.8 516.4L504.2 520.6L499.4 520.6zM507 483.4L509.4 487.6L504.6 487.6zM512.6 456.1L515 460.3L510.2 460.3zM519.4 431.5L521.8 435.7L517 435.7zM526.4 409.4L528.8 413.6L524 413.6zM534.9 389.9L537.3 394.1L532.5 394.1zM542 377.6L544.4 381.8L539.6 381.8zM550.1 365.8L552.5 370L547.7 370zM558.5 357.4L560.9 361.6L556.1 361.6zM566.9 349.8L569.3 354L564.5 354zM575.6 343.4L578 347.6L573.2 347.6zM584.3 338.2L586.7 342.4L581.9 342.4zM593.7 333.5L596.1 337.7L591.3 337.7zM601 332.1L603.4 336.3L598.6 336.3zM610.6 329.1L613 333.3L608.2 333.3zM620.3 327.6L622.7 331.8L617.9 331.8zM630 326.2L632.4 330.4L627.6 330.4zM639.7 324.3L642.1 328.5L637.3 328.5zM648 322L650.4 326.2L645.6 326.2zM657 320L659.4 324.2L654.6 324.2zM666 318L668.4 322.2L663.6 322.2zM675.3 316.7L677.7 320.9L672.9 320.9zM684.5 315.9L686.9 320.1L682.1 320.1zM693.8 314.4L696.2 318.6L691.4 318.6zM703 312.1L705.4 316.3L700.6 316.3zM712.3 310.8L714.7 315L709.9 315zM721.6 309.6L724 313.8L719.2 313.8zM730.7 307.3L733.1 311.5L728.3 311.5z" fill="#ff8020" stroke="none"/>
<path d="M568 498.4 L598.3 498.4" fill="none" stroke="#111" stroke-width="1.2" stroke-linejoin="round" opacity="1"/>
<path d="M581.4 496.65h3.5v3.5h-3.5z" fill="#000" stroke="none"/>
<text x="601.6" y="503.1" font-size="13.3" text-anchor="start" fill="#1a1a1a" font-weight="normal" >SWCNT-film</text>
<path d="M568 514.9 L598.3 514.9" fill="none" stroke="#3fcc4f" stroke-width="1.2" stroke-linejoin="round" opacity="1"/>
<path d="M581.15 514.9a2 2 0 1 0 4 0a2 2 0 1 0 -4 0z" fill="#007a00" stroke="none"/>
<text x="601.6" y="519.6" font-size="13.3" text-anchor="start" fill="#1a1a1a" font-weight="normal" >SWCNT-film KOH 20h</text>
<path d="M568 531.2 L598.3 531.2" fill="none" stroke="#ff8a2a" stroke-width="1.2" stroke-linejoin="round" opacity="1"/>
<path d="M583.15 528.8L585.55 533L580.75 533z" fill="#ff8020" stroke="none"/>
<text x="601.6" y="535.9" font-size="13.3" text-anchor="start" fill="#1a1a1a" font-weight="normal" >SWCNT-film air 20h</text>
</svg></body></html>
